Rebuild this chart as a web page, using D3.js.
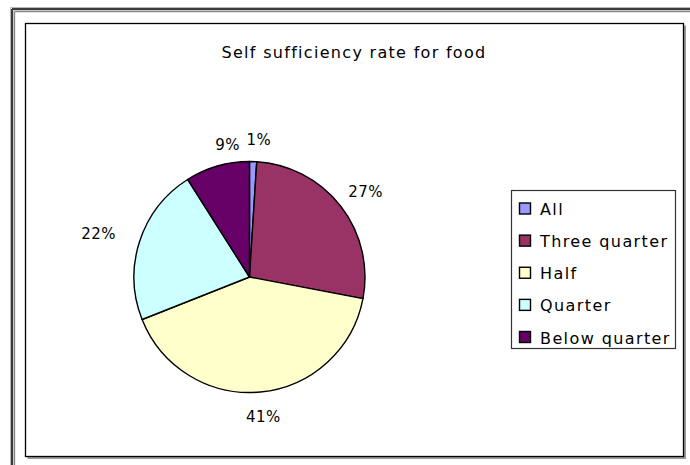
<!DOCTYPE html>
<html>
<head>
<meta charset="utf-8">
<script src="https://cdn.jsdelivr.net/npm/d3@7"></script>
<style>
  html, body { margin: 0; padding: 0; background: #fff; }
  svg { display: block; }
  text { font-family: "DejaVu Sans", sans-serif; fill: #000; }
</style>
</head>
<body>
<script>
// Share of households by how much of their food they produce themselves
const categories = ["All", "Three quarter", "Half", "Quarter", "Below quarter"];
const shares = [1, 27, 41, 22, 9];
const colors = ["#9999FF", "#993366", "#FFFFCC", "#CCFFFF", "#660066"];
const title = "Self sufficiency rate for food";

const W = 690, H = 465;
const svg = d3.select("body").append("svg").attr("width", W).attr("height", H);

// Window-style outer frame (top and left edges)
const frame = svg.append("g");
[
  { o: 10.5, c: "#b8b8b8", w: 1 },
  { o: 12,   c: "#3c3c3c", w: 2 },
  { o: 13.5, c: "#d8d8d8", w: 1 },
  { o: 14.5, c: "#8a8a8a", w: 1.4 }
].forEach(s => {
  const oy = s.o - 3;
  frame.append("line").attr("x1", s.o).attr("y1", oy).attr("x2", W).attr("y2", oy)
    .attr("stroke", s.c).attr("stroke-width", s.w);
  frame.append("line").attr("x1", s.o).attr("y1", oy).attr("x2", s.o).attr("y2", H)
    .attr("stroke", s.c).attr("stroke-width", s.w);
});

// Chart area with a soft drop shadow on the right and bottom
const area = { x: 25.5, y: 23.5, w: 658, h: 433 };
svg.append("path")
  .attr("d", `M${area.x + area.w + 1.5},${area.y + 2} V${area.y + area.h + 1.5} H${area.x + 2}`)
  .attr("fill", "none").attr("stroke", "#9a9a9a").attr("stroke-width", 2);
svg.append("rect")
  .attr("x", area.x).attr("y", area.y).attr("width", area.w).attr("height", area.h)
  .attr("fill", "#fff").attr("stroke", "#000").attr("stroke-width", 1.3);

// Title
svg.append("text")
  .attr("x", 354).attr("y", 58)
  .attr("text-anchor", "middle")
  .attr("font-size", 16)
  .attr("letter-spacing", 1.3)
  .text(title);

// Pie, starting at 12 o'clock and running clockwise
const cx = 249.5, cy = 277, r = 115.5;
const pie = d3.pie().sort(null).value(d => d)(shares);
const arc = d3.arc().innerRadius(0).outerRadius(r);

const g = svg.append("g").attr("transform", `translate(${cx},${cy})`);
g.selectAll("path.slice")
  .data(pie)
  .join("path")
  .attr("class", "slice")
  .attr("d", arc)
  .attr("fill", (d, i) => colors[i])
  .attr("stroke", "#000")
  .attr("stroke-width", 1.4)
  .attr("stroke-linejoin", "round");

// Percentage labels just outside each slice; labels of thin slices off the
// vertical axis are drawn in toward it, the wide side ones pushed outward
const labelFont = 15, gap = 14;
const labels = g.selectAll("text.pct")
  .data(pie)
  .join("text")
  .attr("class", "pct")
  .attr("font-size", labelFont)
  .attr("letter-spacing", 0.5)
  .attr("text-anchor", "middle")
  .attr("dominant-baseline", "central")
  .text(d => d.data + "%");

labels.each(function(d) {
  const bb = this.getBBox();
  const a = (d.startAngle + d.endAngle) / 2;
  const s = Math.sin(a), c = Math.cos(a);
  const thin = (d.endAngle - d.startAngle) < 0.6;
  const pull = thin && Math.abs(s) > 0.1 ? 0.55 : 1;
  const push = Math.abs(s) > 0.9 ? 1.08 : 1;
  let x = ((r + gap) * s + (bb.width / 2) * s) * pull * push;
  // a label right on the axis sits just clear of the top spoke
  if (thin && Math.abs(s) <= 0.1) x = Math.sign(s) * (bb.width / 2 - 3);
  const y = -(r + gap) * c - (bb.height / 2) * c + (c < -0.9 ? 2 : 0) + (thin ? 1 : 0);
  d3.select(this).attr("x", x).attr("y", y);
});

// Legend
const lg = { x: 511.5, y: 190.5, w: 164, h: 158 };
svg.append("rect")
  .attr("x", lg.x).attr("y", lg.y).attr("width", lg.w).attr("height", lg.h)
  .attr("fill", "#fff").attr("stroke", "#333").attr("stroke-width", 1.2);

const rowY = d3.scalePoint().domain(categories).range([208.5, 337]);
const items = svg.selectAll("g.legend-item")
  .data(categories)
  .join("g")
  .attr("class", "legend-item")
  .attr("transform", d => `translate(0,${rowY(d)})`);

items.append("rect")
  .attr("x", 519.5).attr("y", -5.5).attr("width", 11).attr("height", 11)
  .attr("fill", (d, i) => colors[i])
  .attr("stroke", "#000").attr("stroke-width", 1.4);

items.append("text")
  .attr("x", 540).attr("y", 1)
  .attr("dominant-baseline", "central")
  .attr("font-size", 16)
  .attr("letter-spacing", 1.4)
  .text(d => d);
</script>
</body>
</html>
